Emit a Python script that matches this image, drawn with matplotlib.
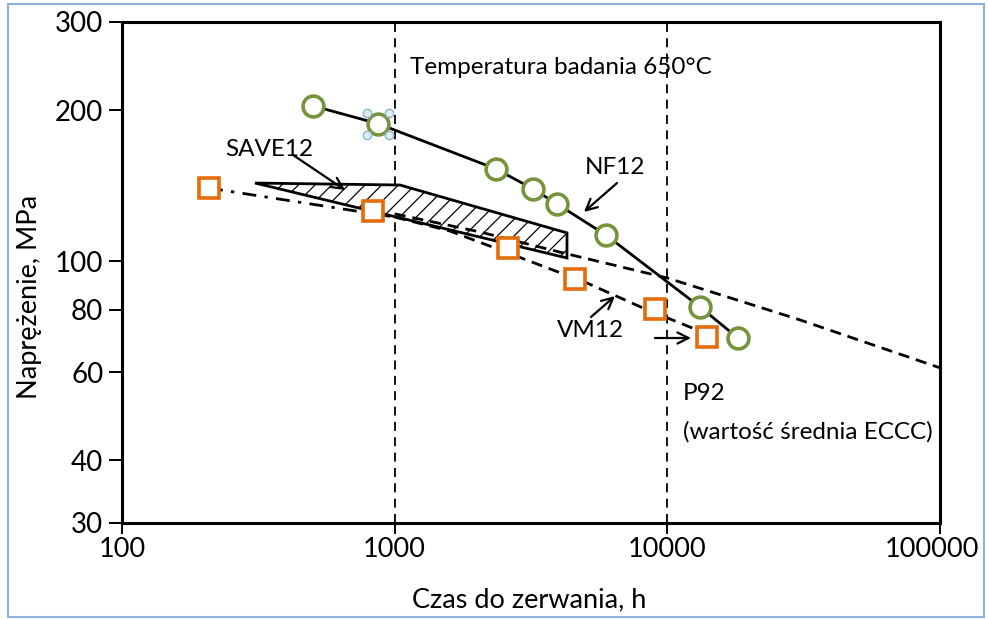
import matplotlib
matplotlib.use("Agg")
import matplotlib.pyplot as plt
from matplotlib.patches import Polygon, Rectangle
from matplotlib.ticker import FixedLocator, NullLocator, FixedFormatter
import matplotlib.transforms as mtransforms

plt.rcParams['font.family'] = ['Lato', 'DejaVu Sans']
plt.rcParams['hatch.linewidth'] = 0.9

# ---------------- data ----------------
# NF12 (green circles) and its fitted curve
nf12_t = [502, 869, 2352, 3215, 3937, 5953, 13170, 18150]
nf12_s = [204, 188, 152.7, 139.3, 130, 112.7, 81, 70.2]

# VM12 (orange squares)
vm12_t = [208.5, 832, 2604, 4583, 9004, 13970]
vm12_s = [139.8, 125.8, 106.2, 92.1, 80.2, 70.5]

# VM12 dash-dot extrapolation
vm12_ext_t = [208.5, 1000]
vm12_ext_s = [139.8, 122.4]
# VM12 dashed curve
vm12_fit_t = [1000, 1594, 2604, 5072, 8137, 15200]
vm12_fit_s = [122.4, 114.8, 103.8, 90.4, 80.6, 70.2]

# P92 mean (ECCC) dashed curve
p92_t = [1000, 2055, 4142, 10000, 30640, 100000]
p92_s = [124.2, 114.3, 103.8, 92.5, 76.3, 61.2]

# SAVE12 scatter band (hatched)
save12_t = [307.5, 1046, 4285, 4285]
save12_s = [143.1, 141.8, 113.8, 101.4]

# axes ticks
x_ticks = [100, 1000, 10000, 100000]
x_tick_labels = ['100', '1000', '10000', '100000']
y_ticks = [30, 40, 60, 80, 100, 200, 300]
y_tick_labels = ['30', '40', '60', '80', '100', '200', '300']
vlines_t = [1000, 10000]

# ---------------- figure ----------------
fig = plt.figure(figsize=(9.88, 6.19), dpi=100)
ax = fig.add_axes([0.1235, 0.1551, 0.8279, 0.8094])
ax.set_xscale('log')
ax.set_yscale('log')
ax.set_xlim(100, 100000)
ax.set_ylim(30, 300)

for v in vlines_t:
    ax.axvline(v, color='black', lw=1.3, ls=(0, (5, 3.5)), zorder=1)

# SAVE12 band
band = Polygon(list(zip(save12_t, save12_s)), closed=True, facecolor='white',
               edgecolor='black', hatch='//', lw=0, zorder=2)
ax.add_patch(band)
band_edge = Polygon(list(zip(save12_t, save12_s)), closed=True, fill=False,
                    edgecolor='black', lw=2.0, joinstyle='miter', zorder=3)
ax.add_patch(band_edge)

# lines
ax.plot(p92_t, p92_s, color='black', lw=2.0, ls=(0, (4, 2.5)), zorder=3)
ax.plot(vm12_ext_t, vm12_ext_s, color='black', lw=2.0, ls=(0, (5, 3, 1.2, 3)), zorder=3)
ax.plot(vm12_fit_t, vm12_fit_s, color='black', lw=2.0, ls=(0, (4, 2.5)), zorder=3)
ax.plot(nf12_t, nf12_s, color='black', lw=2.0, zorder=3)

# markers
ax.plot(nf12_t, nf12_s, ls='none', marker='o', ms=15, mfc='white',
        mec='#77933C', mew=2.6, zorder=5)
ax.plot(vm12_t, vm12_s, ls='none', marker='s', ms=14.5, mfc='white',
        mec='#E46C0A', mew=2.6, zorder=5)

# selection handles around the second NF12 point
for dx, dy in [(-11, 11), (11, 11), (-11, -11), (11, -11)]:
    tr = mtransforms.offset_copy(ax.transData, fig=fig, x=dx, y=dy, units='dots')
    ax.plot([nf12_t[1]], [nf12_s[1]], transform=tr, marker='o', ms=6,
            mfc='#DAEEF3', mec='#8FB3C8', mew=1.0, ls='none', zorder=6)

# texts
txt_kw = dict(fontsize=17.5, color='black', va='center', ha='left')
ax.text(1138, 243.9, 'Temperatura badania 650°C', **txt_kw)
ax.text(238.7, 166.6, 'SAVE12', **txt_kw)
ax.text(4987, 153.4, 'NF12', **txt_kw)
ax.text(3937, 72.5, 'VM12', **txt_kw)
ax.text(11408, 54.5, 'P92', **txt_kw)
ax.text(11408, 45.6, '(wartość średnia ECCC)', **txt_kw)

# arrows
arrow_kw = dict(arrowstyle='->', color='black', lw=1.6, mutation_scale=20,
                shrinkA=0, shrinkB=0)
ax.annotate('', xy=(657.5, 138.6), xytext=(423.6, 162.8), arrowprops=arrow_kw, zorder=4)
ax.annotate('', xy=(4946, 125.3), xytext=(6535, 143.1), arrowprops=arrow_kw, zorder=4)
ax.annotate('', xy=(6425, 85.1), xytext=(5246, 77.3), arrowprops=arrow_kw, zorder=4)
ax.annotate('', xy=(12214, 70.2), xytext=(9004, 70.2), arrowprops=arrow_kw, zorder=4)

# axes styling
for s in ax.spines.values():
    s.set_linewidth(2.2)
ax.xaxis.set_major_locator(FixedLocator(x_ticks))
ax.xaxis.set_major_formatter(FixedFormatter(x_tick_labels))
ax.xaxis.set_minor_locator(NullLocator())
ax.yaxis.set_major_locator(FixedLocator(y_ticks))
ax.yaxis.set_major_formatter(FixedFormatter(y_tick_labels))
ax.yaxis.set_minor_locator(NullLocator())
ax.tick_params(axis='y', which='major', direction='out', length=9.5, width=1.4,
               labelsize=20, pad=4)
ax.tick_params(axis='x', which='major', direction='out', length=8, width=1.4,
               labelsize=19.5, pad=2)
ax.set_xlabel('Czas do zerwania, h', fontsize=19.5)
ax.set_ylabel('Naprężenie, MPa', fontsize=19.5)
ax.xaxis.set_label_coords(0.4976, -0.154)
ax.yaxis.set_label_coords(-0.1125, 0.451)
ax.xaxis.label.set_va('center')
ax.yaxis.label.set_va('center')

# last x tick label sits slightly left, as in the original
last_lbl = ax.get_xticklabels()[-1]
last_lbl.set_transform(last_lbl.get_transform() +
                       mtransforms.ScaledTranslation(-8 / 100, 0, fig.dpi_scale_trans))

# outer frame
fig.patches.append(Rectangle((8 / 988, 2 / 619), 976 / 988, 613 / 619,
                             transform=fig.transFigure, fill=False,
                             edgecolor='#8DB0DC', lw=1.5))

fig.savefig('out.png', dpi=100)
